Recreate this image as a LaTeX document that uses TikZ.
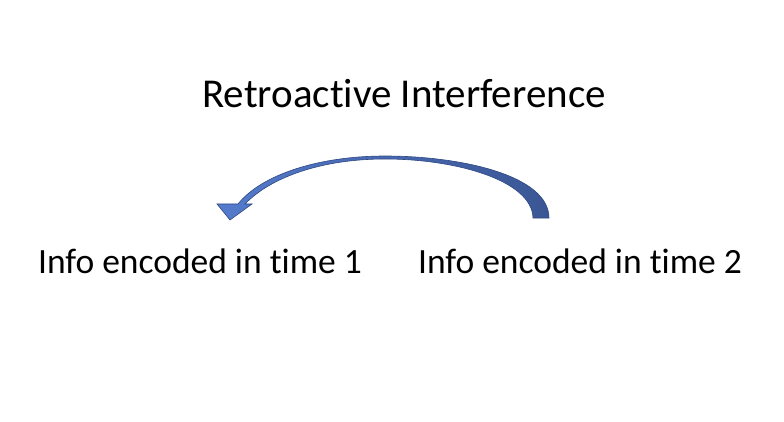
\documentclass[tikz,border=0pt]{standalone}
\usepackage{fontspec}
\setmainfont[Ligatures={NoCommon}]{Carlito}
\definecolor{arrL}{RGB}{84,123,205}
\definecolor{arrR}{RGB}{58,86,148}
\definecolor{arrE}{RGB}{47,72,130}
\begin{document}
\begin{tikzpicture}[x=1pt,y=-1pt,
  lbl/.style={inner sep=0pt,anchor=base,font=\fontsize{35.5}{40}\selectfont},
  ttl/.style={inner sep=0pt,anchor=base,font=\fontsize{41}{46}\selectfont}]
\useasboundingbox (0,0) rectangle (784,422);
\node[ttl] (title) at (404,108) {Retroactive Interference};
\node[lbl] (t1) at (200,273) {Info encoded in time 1};
\node[lbl] (t2) at (580,273) {Info encoded in time 2};
\coordinate (tip) at (230,220);
\path[left color=arrL,right color=arrR,draw=arrE,line width=0.6pt]
 (549,218) .. controls (549,175) and (460,156) .. (385,156)
 .. controls (320,156) and (262,174) .. (238,204)
 -- (217,204) -- (tip) -- (252,204) -- (245,204)
 .. controls (270,178) and (320,159) .. (385,159)
 .. controls (455,159) and (532,180) .. (533,218) -- cycle;
\end{tikzpicture}
\end{document}
